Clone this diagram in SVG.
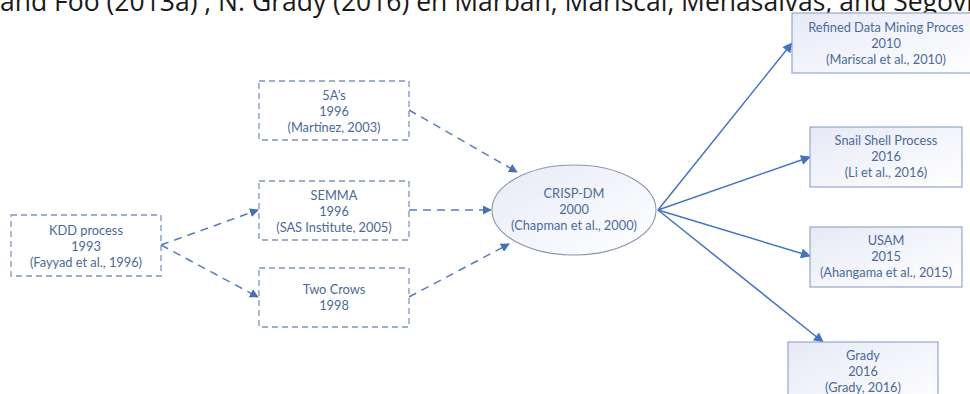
<svg xmlns="http://www.w3.org/2000/svg" width="970" height="394" viewBox="0 0 970 394">
  <defs>
    <linearGradient id="boxFill" x1="0" y1="0" x2="1" y2="1">
      <stop offset="0" stop-color="#e6e9f6"/>
      <stop offset="0.5" stop-color="#f4f5fb"/>
      <stop offset="1" stop-color="#ffffff"/>
    </linearGradient>
    <marker id="arrowDash" viewBox="0 0 10 10" refX="9" refY="5" markerWidth="9" markerHeight="9" markerUnits="userSpaceOnUse" orient="auto">
      <path d="M0,0 L10,5 L0,10 Z" fill="#4a6fb0"/>
    </marker>
    <marker id="arrowSolid" viewBox="0 0 10 10" refX="9" refY="5" markerWidth="12" markerHeight="10" markerUnits="userSpaceOnUse" orient="auto">
      <path d="M0,0 L10,5 L0,10 Z" fill="#4472c4"/>
    </marker>
  </defs>
  <style>
    .lbl { font-family: Lato, "Liberation Sans", sans-serif; font-size: 12.8px; fill: #4a6a99; text-anchor: middle; }
    .dashbox { fill: #ffffff; stroke: #7d96ba; stroke-width: 1.3; stroke-dasharray: 6 4; }
    .solidbox { fill: url(#boxFill); stroke: #93a6cf; stroke-width: 1.2; }
    .dashline { fill: none; stroke: #5b7dbb; stroke-width: 1.5; stroke-dasharray: 8 6; marker-end: url(#arrowDash); }
    .solidline { fill: none; stroke: #4472c4; stroke-width: 1.5; marker-end: url(#arrowSolid); }
    .heading { font-family: "Open Sans", "Noto Sans", sans-serif; font-size: 26.5px; fill: #1a1a1a; }
  </style>

  <rect width="970" height="394" fill="#ffffff"/>

  <!-- running text line above the figure; its upper half runs off the top edge -->
  <text class="heading" x="0" y="11">and Foo (2013a) , N. Grady (2016) en Marban, Mariscal, Menasalvas, and Segovia</text>

  <!-- connectors -->
  <g id="connectors">
    <line class="dashline" x1="161" y1="245" x2="258" y2="210"/>
    <line class="dashline" x1="161" y1="245" x2="258" y2="297"/>
    <line class="dashline" x1="409" y1="110" x2="517" y2="172"/>
    <line class="dashline" x1="409" y1="210" x2="491" y2="210"/>
    <line class="dashline" x1="409" y1="297" x2="509" y2="244"/>
    <line class="solidline" x1="658" y1="210" x2="792" y2="43"/>
    <line class="solidline" x1="658" y1="210" x2="810" y2="157"/>
    <line class="solidline" x1="658" y1="210" x2="810" y2="256"/>
    <line class="solidline" x1="658" y1="210" x2="823" y2="342"/>
  </g>

  <g id="kdd">
    <rect class="dashbox" x="11" y="215" width="150" height="61"/>
    <text class="lbl" x="86" y="235">KDD process</text>
    <text class="lbl" x="86" y="251">1993</text>
    <text class="lbl" x="86" y="267">(Fayyad et al., 1996)</text>
  </g>

  <g id="fiveA">
    <rect class="dashbox" x="259" y="81" width="150" height="59"/>
    <text class="lbl" x="334" y="100">5A’s</text>
    <text class="lbl" x="334" y="116">1996</text>
    <text class="lbl" x="334" y="132">(Martínez, 2003)</text>
  </g>

  <g id="semma">
    <rect class="dashbox" x="259" y="181" width="150" height="59"/>
    <text class="lbl" x="334" y="200">SEMMA</text>
    <text class="lbl" x="334" y="216">1996</text>
    <text class="lbl" x="334" y="232">(SAS Institute, 2005)</text>
  </g>

  <g id="twoCrows">
    <rect class="dashbox" x="259" y="268" width="150" height="59"/>
    <text class="lbl" x="334" y="294">Two Crows</text>
    <text class="lbl" x="334" y="310">1998</text>
  </g>

  <g id="crispDm">
    <ellipse cx="574" cy="210" rx="82" ry="45" fill="url(#boxFill)" stroke="#8a96ad" stroke-width="1.1"/>
    <text class="lbl" x="574" y="198">CRISP-DM</text>
    <text class="lbl" x="574" y="214">2000</text>
    <text class="lbl" x="574" y="230">(Chapman et al., 2000)</text>
  </g>

  <g id="refined">
    <rect class="solidbox" x="792" y="13" width="190" height="60"/>
    <text class="lbl" x="886" y="32">Refined Data Mining Proces</text>
    <text class="lbl" x="886" y="48">2010</text>
    <text class="lbl" x="886" y="64">(Mariscal et al., 2010)</text>
  </g>

  <g id="snailShell">
    <rect class="solidbox" x="810" y="127" width="152" height="60"/>
    <text class="lbl" x="886" y="145">Snail Shell Process</text>
    <text class="lbl" x="886" y="161">2016</text>
    <text class="lbl" x="886" y="177">(Li et al., 2016)</text>
  </g>

  <g id="usam">
    <rect class="solidbox" x="810" y="227" width="152" height="60"/>
    <text class="lbl" x="886" y="245">USAM</text>
    <text class="lbl" x="886" y="261">2015</text>
    <text class="lbl" x="886" y="277">(Ahangama et al., 2015)</text>
  </g>

  <g id="grady">
    <rect class="solidbox" x="788" y="342" width="150" height="70"/>
    <text class="lbl" x="863" y="360">Grady</text>
    <text class="lbl" x="863" y="376">2016</text>
    <text class="lbl" x="863" y="392">(Grady, 2016)</text>
  </g>
</svg>
